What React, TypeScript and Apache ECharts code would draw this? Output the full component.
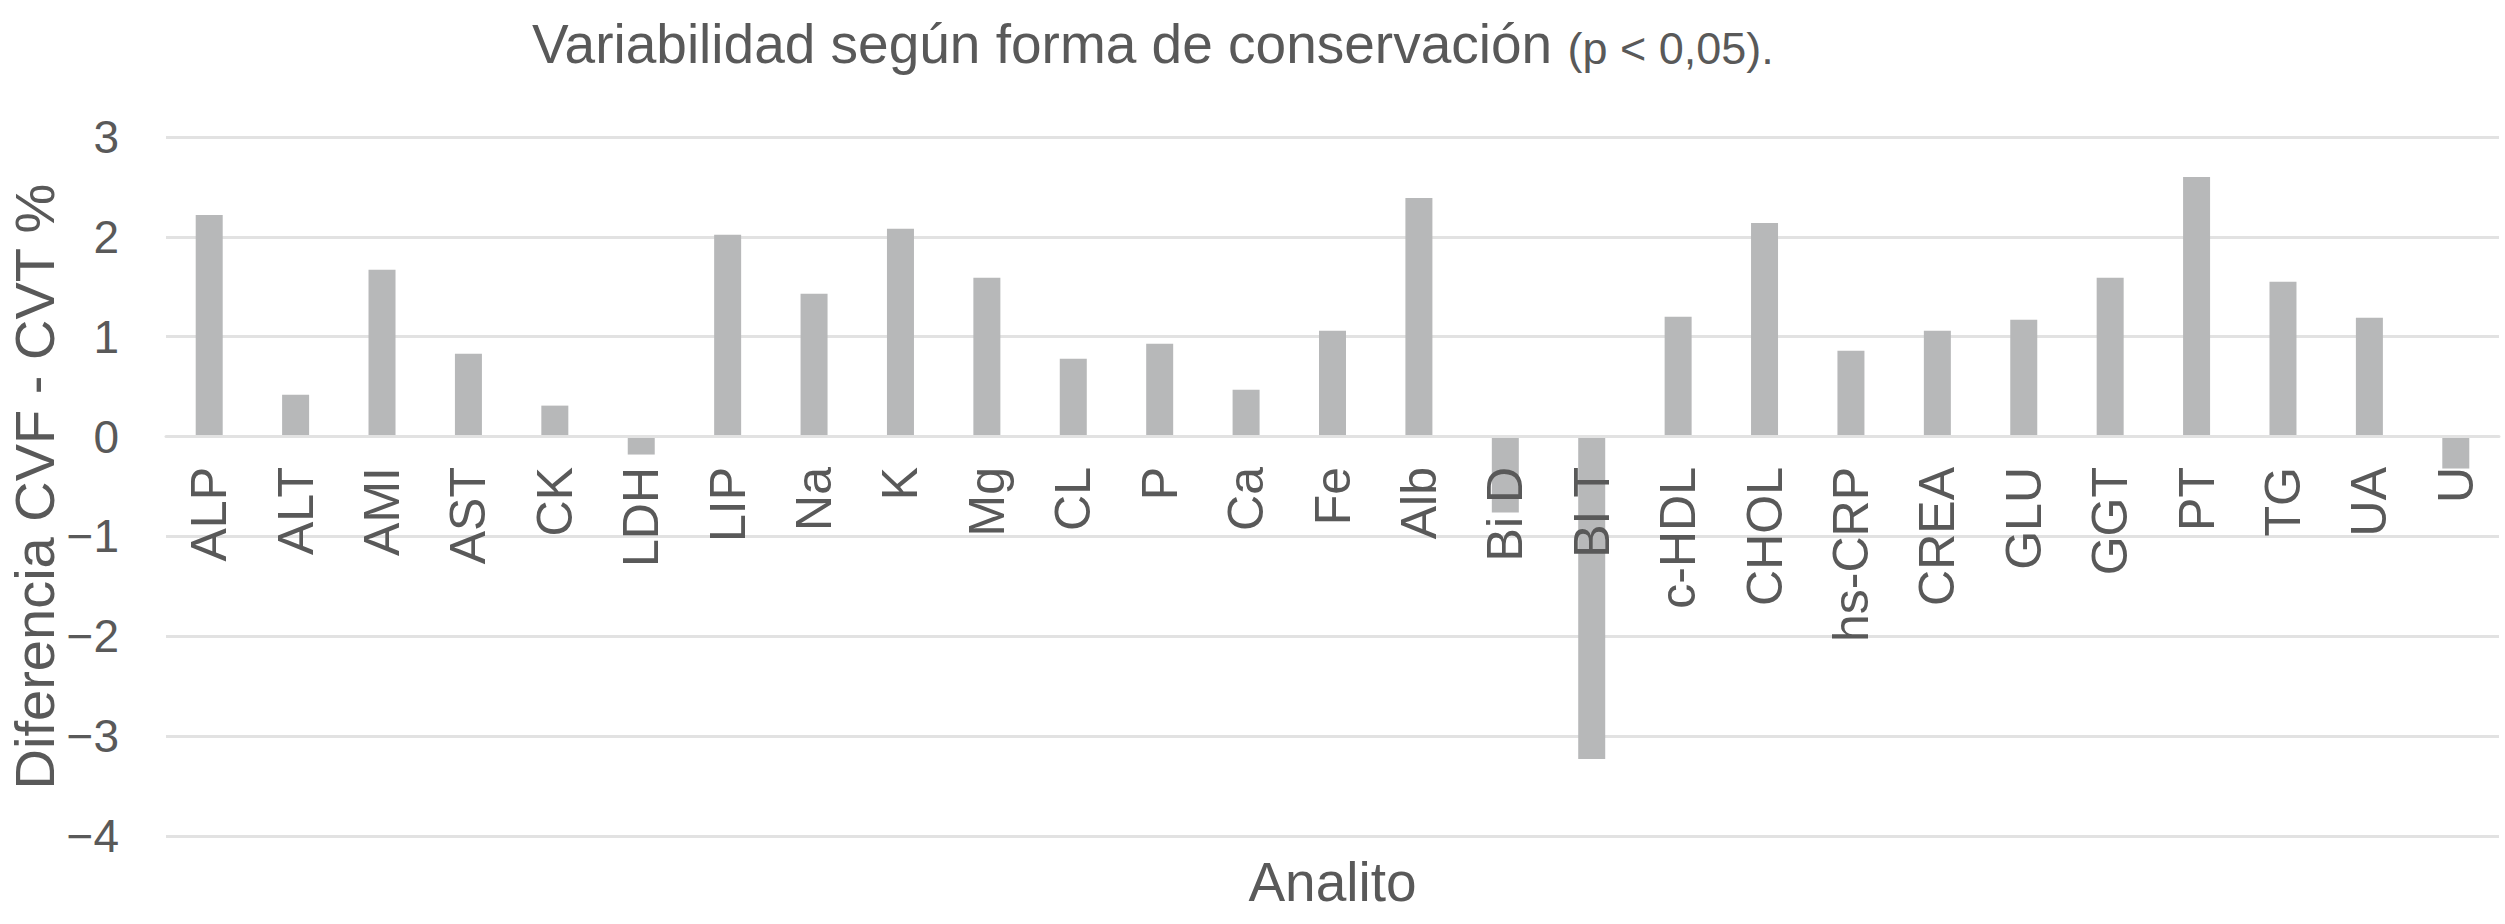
import React, { useEffect, useRef } from "react";
import * as echarts from "echarts";

const categories = ["ALP", "ALT", "AMI", "AST", "CK", "LDH", "LIP", "Na", "K", "Mg", "CL", "P", "Ca", "Fe", "Alb", "Bi D", "BI T", "c-HDL", "CHOL", "hs-CRP", "CREA", "GLU", "GGT", "PT", "TG", "UA", "U"];
const differences = [2.22, 0.42, 1.67, 0.83, 0.31, -0.18, 2.02, 1.43, 2.08, 1.59, 0.78, 0.93, 0.47, 1.06, 2.39, -0.76, -3.23, 1.2, 2.14, 0.86, 1.06, 1.17, 1.59, 2.6, 1.55, 1.19, -0.32];
const titleMain = "Variabilidad según forma de conservación";
const titleNote = "(p < 0,05).";
const yAxisTitle = "Diferencia CVF - CVT %";
const xAxisTitle = "Analito";

const FONT = "'Liberation Sans', Arial, Helvetica, sans-serif";
const TEXT = "#595959";

export default function App() {
  const ref = useRef<HTMLDivElement>(null);
  useEffect(() => {
    if (!ref.current) return;
    const chart = echarts.init(ref.current, null, { renderer: "svg" });
    chart.setOption({
      animation: false,
      backgroundColor: "#ffffff",
      title: {
        text: `{a|${titleMain} }{b|${titleNote}}`,
        left: 532,
        top: 9,
        padding: 0,
        textStyle: {
          fontWeight: "normal",
          rich: {
            a: { fontFamily: FONT, fontSize: 55, fontWeight: "normal", color: TEXT, lineHeight: 62, verticalAlign: "bottom" },
            b: { fontFamily: FONT, fontSize: 45, fontWeight: "normal", color: TEXT, lineHeight: 62, verticalAlign: "bottom" },
          },
        },
      },
      grid: { left: 166, right: 6, top: 137, bottom: 88, containLabel: false, outerBoundsMode: "none" },
      xAxis: {
        type: "category",
        data: categories,
        position: "bottom",
        offset: -400,
        z: 5,
        name: xAxisTitle,
        nameLocation: "middle",
        nameGap: 418,
        nameMoveOverlap: false,
        nameTextStyle: { fontFamily: FONT, fontSize: 55, color: TEXT },
        axisLine: { show: true, onZero: false, lineStyle: { color: "#e2e2e2", width: 3 } },
        axisTick: { show: false },
        axisLabel: { rotate: 90, margin: 31, fontFamily: FONT, fontSize: 50, color: TEXT, interval: 0 },
      },
      yAxis: {
        type: "value",
        min: -4,
        max: 3,
        interval: 1,
        name: yAxisTitle,
        nameLocation: "middle",
        nameGap: 104,
        nameMoveOverlap: false,
        nameTextStyle: { fontFamily: FONT, fontSize: 56, color: TEXT, lineHeight: 56 },
        axisLine: { show: false },
        axisTick: { show: false },
        splitLine: { lineStyle: { color: "#e2e2e2", width: 3 } },
        axisLabel: {
          margin: 47,
          fontFamily: FONT,
          fontSize: 46,
          color: TEXT,
          formatter: (v: number) => (v < 0 ? "\u2212" + Math.abs(v) : String(v)),
        },
      },
      series: [
        {
          type: "bar",
          data: differences,
          barWidth: 27,
          itemStyle: { color: "#b7b8b9" },
        },
      ],
    });
    return () => chart.dispose();
  }, []);
  return <div ref={ref} style={{ position: "fixed", left: 0, top: 0, width: 2505, height: 924 }} />;
}
